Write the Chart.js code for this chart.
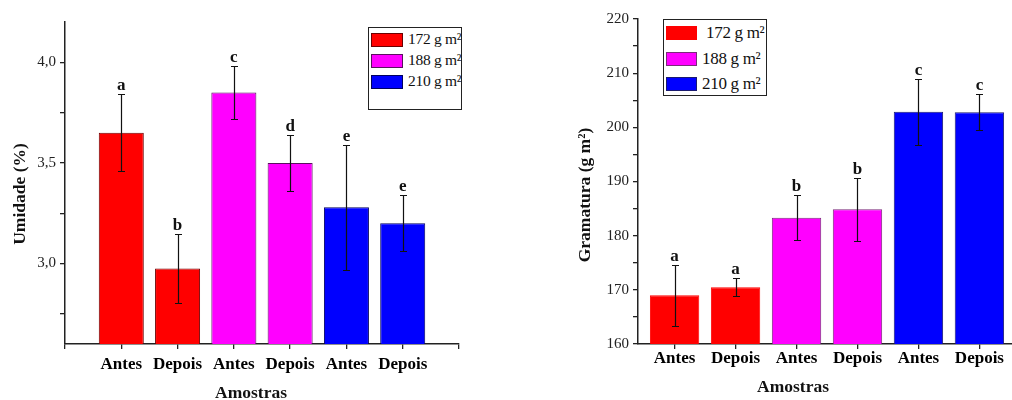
<!DOCTYPE html>
<html>
<head>
<meta charset="utf-8">
<script src="https://cdn.jsdelivr.net/npm/chart.js@4.4.1/dist/chart.umd.min.js"></script>
<style>
html, body { margin: 0; padding: 0; background: #fff; overflow: hidden; }
.panel { position: absolute; top: 0; height: 400px; overflow: hidden; }
#leftPanel { left: 0; width: 480px; }
#rightPanel { left: 540px; width: 472px; }
.legend { position: absolute; box-sizing: border-box; border: 1.5px solid #222; background: #fff;
  font-family: "Liberation Serif", "Times New Roman", serif; color: #111; }
.legend .sw { position: absolute; box-sizing: border-box; border: 1px solid; }
.legend .lbl { position: absolute; white-space: nowrap; line-height: 1; letter-spacing: -0.3px; }
</style>
</head>
<body>
<div class="panel" id="leftPanel"><canvas id="umidade" width="480" height="410"></canvas></div>
<div class="panel" id="rightPanel"><canvas id="gramatura" width="480" height="410"></canvas></div>
<script>
// data
var groups = ['172 g m\u00b2', '188 g m\u00b2', '210 g m\u00b2'];
var groupColors = ['#ff0000', '#ff00ff', '#0000ff'];
var samples = ['Antes', 'Depois', 'Antes', 'Depois', 'Antes', 'Depois'];
var groupOf = [0, 0, 1, 1, 2, 2];

var umidade = [3.65, 2.975, 3.85, 3.50, 3.28, 3.20];
var umidadeErr = [0.19, 0.17, 0.13, 0.14, 0.31, 0.14];
var umidadeLetters = ['a', 'b', 'c', 'd', 'e', 'e'];

var gramatura = [169.0, 170.5, 183.3, 184.9, 202.9, 202.8];
var gramaturaErr = [5.6, 1.65, 4.15, 5.8, 6.1, 3.3];
var gramaturaLetters = ['a', 'a', 'b', 'b', 'c', 'c'];

var serif = '"Liberation Serif", "Times New Roman", serif';

// error bars + letters over each bar
var errorBarPlugin = {
	id: 'errorBars',
	afterDatasetsDraw: function(chart) {
		var ctx = chart.ctx, y = chart.scales.y;
		ctx.save();
		ctx.strokeStyle = '#111';
		ctx.fillStyle = '#111';
		ctx.lineWidth = 1.2;
		ctx.font = 'bold 17px ' + serif;
		ctx.textAlign = 'center';
		ctx.textBaseline = 'alphabetic';
		chart.data.datasets.forEach(function(ds, di) {
			chart.getDatasetMeta(di).data.forEach(function(bar, i) {
				var d = ds.data[i];
				var top = Math.round(y.getPixelForValue(d.y + d.err)) + 0.5;
				var bot = Math.round(y.getPixelForValue(d.y - d.err)) + 0.5;
				var x = Math.round(bar.x) + 0.5;
				ctx.beginPath();
				ctx.moveTo(x, top); ctx.lineTo(x, bot);
				ctx.moveTo(x - 3.5, top); ctx.lineTo(x + 3.5, top);
				ctx.moveTo(x - 3.5, bot); ctx.lineTo(x + 3.5, bot);
				ctx.stroke();
				ctx.fillText(d.letter, bar.x, top - 5);
			});
		});
		ctx.restore();
	}
};

// axis titles placed by hand
var axisTitlePlugin = {
	id: 'axisTitles',
	afterDraw: function(chart) {
		var items = chart.config.options.plugins.axisTitles.items;
		var ctx = chart.ctx;
		ctx.save();
		ctx.fillStyle = '#111';
		ctx.font = 'bold 17.5px ' + serif;
		ctx.textAlign = 'center';
		ctx.textBaseline = 'middle';
		items.forEach(function(t) {
			ctx.save();
			ctx.translate(t.x, t.y);
			ctx.rotate(t.rot * Math.PI / 180);
			ctx.fillText(t.text, 0, 0);
			ctx.restore();
		});
		ctx.restore();
	}
};

function buildDatasets(values, errs, letters, borders, barPct) {
	return groups.map(function(g, gi) {
		var pts = [];
		samples.forEach(function(s, i) {
			if (groupOf[i] === gi)
				pts.push({x: i + 1, y: values[i], err: errs[i], letter: letters[i]});
		});
		return {
			label: g,
			data: pts,
			backgroundColor: groupColors[gi],
			borderColor: borders[gi],
			borderWidth: 1,
			grouped: false,
			barPercentage: barPct,
			categoryPercentage: 1
		};
	});
}

function axisStyle() {
	return {
		grid: { display: true, offset: false, drawOnChartArea: false, drawTicks: true, tickLength: 5, color: '#222', lineWidth: 1.3 },
		border: { display: true, color: '#222', width: 1.5 }
	};
}

function makeChart(id, c) {
	var xs = axisStyle(), ys = axisStyle();
	return new Chart(document.getElementById(id), {
		type: 'bar',
		data: { datasets: buildDatasets(c.values, c.errs, c.letters, c.borders, c.barPct) },
		options: {
			responsive: false,
			animation: false,
			layout: { padding: c.padding },
			plugins: {
				legend: { display: false },
				tooltip: { enabled: false },
				axisTitles: { items: c.titles }
			},
			scales: {
				x: {
					type: 'linear', min: c.xMin, max: c.xMax, offset: false,
					grid: xs.grid, border: xs.border,
					afterFit: function(s) { s.height = c.xHeight; },
					ticks: {
						stepSize: 1, includeBounds: false, autoSkip: false, maxRotation: 0,
						padding: c.xPad, color: '#000',
						font: { family: serif, size: 17, weight: 'bold' },
						callback: function(v) {
							return (Number.isInteger(v) && v >= 1 && v <= samples.length) ? samples[v - 1] : '';
						}
					}
				},
				y: {
					min: c.yMin, max: c.yMax,
					grid: ys.grid, border: ys.border,
					afterFit: function(s) { s.width = c.yWidth; },
					ticks: {
						stepSize: c.yStep, includeBounds: false, autoSkip: false,
						padding: 4, color: '#222',
						font: { family: serif, size: 15 },
						callback: c.yLabel
					}
				}
			}
		},
		plugins: [errorBarPlugin, axisTitlePlugin]
	});
}

function makeLegend(panelId, box) {
	var el = document.createElement('div');
	el.className = 'legend';
	el.style.left = box.left + 'px';
	el.style.top = box.top + 'px';
	el.style.width = box.width + 'px';
	el.style.height = box.height + 'px';
	el.style.fontSize = box.fontSize + 'px';
	groups.forEach(function(g, gi) {
		var sw = document.createElement('div');
		sw.className = 'sw';
		sw.style.left = '2px';
		sw.style.top = (box.rows[gi] - 7) + 'px';
		sw.style.width = box.swWidth + 'px';
		sw.style.height = '14px';
		sw.style.background = groupColors[gi];
		sw.style.borderColor = box.borders[gi];
		el.appendChild(sw);
		var t = document.createElement('div');
		t.className = 'lbl';
		t.textContent = g;
		t.style.left = box.textLeft[gi] + 'px';
		t.style.top = (box.rows[gi] - box.fontSize * 0.55) + 'px';
		el.appendChild(t);
	});
	document.getElementById(panelId).appendChild(el);
}

var leftBorders = ['#6b0000', '#5a1060', '#000060'];
var rightBorders = ['#ff0000', '#7a2a7a', '#1a1a70'];

makeChart('umidade', {
	values: umidade, errs: umidadeErr, letters: umidadeLetters,
	borders: leftBorders, barPct: 0.8,
	xMin: 0, xMax: 7, xHeight: 66, xPad: 5,
	yMin: 2.6, yMax: 4.2, yStep: 0.25, yWidth: 65,
	yLabel: function(v) {
		return Math.abs(v * 2 - Math.round(v * 2)) < 1e-6 ? v.toFixed(1).replace('.', ',') : '';
	},
	padding: { top: 22, right: 21, bottom: 0, left: 0 },
	titles: [
		{ text: 'Umidade (%)', x: 20, y: 194, rot: -90 },
		{ text: 'Amostras', x: 251, y: 393, rot: 0 }
	]
});

makeChart('gramatura', {
	values: gramatura, errs: gramaturaErr, letters: gramaturaLetters,
	borders: rightBorders, barPct: 0.81,
	xMin: 0.4, xMax: 6.6, xHeight: 66, xPad: -1,
	yMin: 160, yMax: 220, yStep: 5, yWidth: 98,
	yLabel: function(v) { return v % 10 === 0 ? String(v) : ''; },
	padding: { top: 19, right: 4, bottom: 0, left: 0 },
	titles: [
		{ text: 'Gramatura (g m\u00b2)', x: 45, y: 195, rot: -90 },
		{ text: 'Amostras', x: 253, y: 387, rot: 0 }
	]
});

makeLegend('leftPanel', {
	left: 368, top: 27, width: 94, height: 83, fontSize: 15.5,
	rows: [12, 33, 54], swWidth: 32, textLeft: [39, 39, 39], borders: leftBorders
});
makeLegend('rightPanel', {
	left: 123, top: 19, width: 104, height: 77, fontSize: 17,
	rows: [13, 39, 64], swWidth: 31, textLeft: [42, 38, 38], borders: rightBorders
});
</script>
</body>
</html>
